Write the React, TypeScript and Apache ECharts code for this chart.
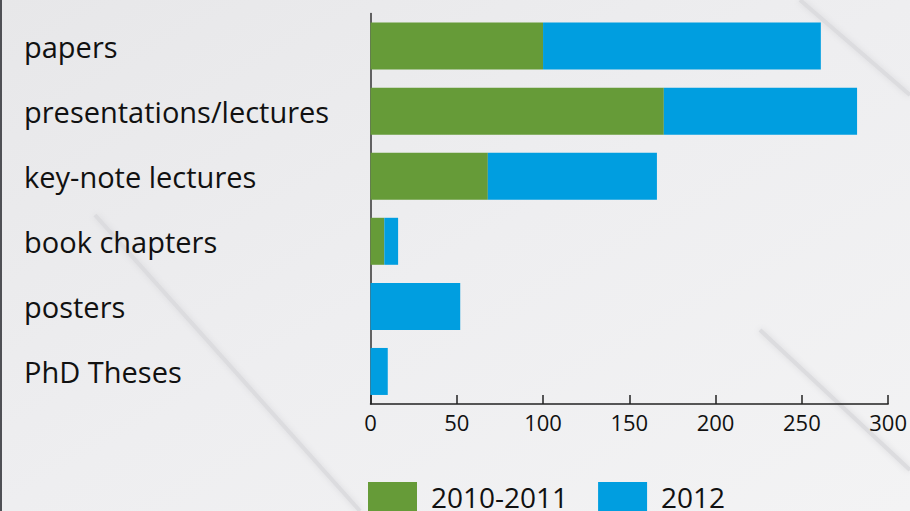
import React, { useEffect, useRef } from "react";
import * as echarts from "echarts";

const categories = ["papers", "presentations/lectures", "key-note lectures", "book chapters", "posters", "PhD Theses"];
const series2010 = [100, 170, 68, 8, 0, 0];
const series2012 = [161, 112, 98, 8, 52, 10];
const seriesNames = ["2010-2011", "2012"];
const xTicks = [0, 300, 50];

export default function App() {
  const ref = useRef<HTMLDivElement>(null);
  useEffect(() => {
    const chart = echarts.init(ref.current!, undefined, { renderer: "svg" });
    const font = "'Open Sans', 'Noto Sans', sans-serif";
    const faint = { stroke: "#dcdcdf", lineWidth: 4, shadowBlur: 6, shadowColor: "#d8d8db" };
    chart.setOption({
      animation: false,
      backgroundColor: {
        type: "linear", x: 0, y: 0, x2: 1, y2: 1,
        colorStops: [
          { offset: 0, color: "#e7e7e9" },
          { offset: 0.5, color: "#eeeef0" },
          { offset: 1, color: "#f3f3f4" },
        ],
      },
      graphic: [
        { type: "rect", shape: { x: 0, y: 0, width: 2, height: 511 }, style: { fill: "#4f5055" }, silent: true, z: -1 },
        { type: "line", shape: { x1: 95, y1: 215, x2: 360, y2: 511 }, style: faint, silent: true, z: -1 },
        { type: "line", shape: { x1: 800, y1: 0, x2: 910, y2: 95 }, style: faint, silent: true, z: -1 },
        { type: "line", shape: { x1: 760, y1: 330, x2: 910, y2: 470 }, style: faint, silent: true, z: -1 },
      ],
      grid: { left: 370.5, right: 19.3, top: 13.5, bottom: 107, containLabel: false },
      legend: {
        left: 368,
        top: 482,
        padding: 0,
        itemWidth: 49,
        itemHeight: 30,
        itemGap: 30,
        icon: "rect",
        data: seriesNames,
        textStyle: { fontFamily: font, fontSize: 28, lineHeight: 24, color: "#111", padding: [0, 0, 3, 9] },
      },
      xAxis: {
        type: "value",
        min: xTicks[0],
        max: xTicks[1],
        interval: xTicks[2],
        splitLine: { show: false },
        axisLine: { show: true, lineStyle: { color: "#222", width: 1.5 } },
        axisTick: { show: true, inside: true, length: 9, lineStyle: { color: "#222", width: 1.5 } },
        axisLabel: { fontFamily: font, fontSize: 22, color: "#111", margin: 7 },
      },
      yAxis: {
        type: "category",
        inverse: true,
        data: categories,
        axisLine: { show: true, lineStyle: { color: "#333", width: 1.5 } },
        axisTick: { show: false },
        axisLabel: { fontFamily: font, fontSize: 29, color: "#111", align: "left", margin: 346.5 },
      },
      series: [
        {
          name: seriesNames[0], type: "bar", stack: "total", data: series2010,
          barWidth: 47, itemStyle: { color: "#669b38" },
        },
        {
          name: seriesNames[1], type: "bar", stack: "total", data: series2012,
          barWidth: 47, itemStyle: { color: "#009ee0" },
        },
      ],
    });
    return () => chart.dispose();
  }, []);
  return (
    <div style={{ position: "fixed", left: 0, top: 0, width: 910, height: 511 }}>
      <div ref={ref} style={{ width: 910, height: 511 }} />
    </div>
  );
}
